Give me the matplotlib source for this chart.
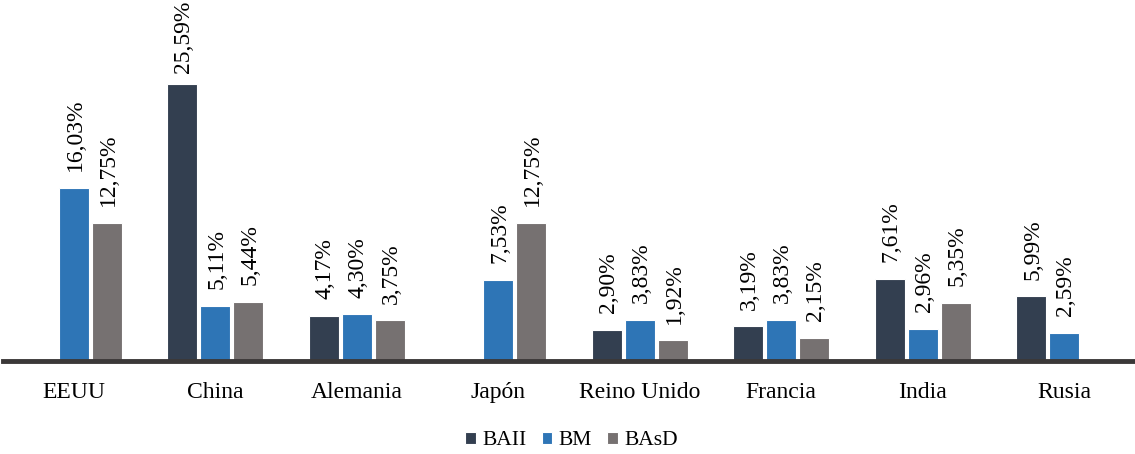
import numpy as np
import matplotlib.pyplot as plt

plt.rcParams["font.family"] = ["Liberation Serif", "DejaVu Serif"]

paises = ["EEUU", "China", "Alemania", "Japón", "Reino Unido", "Francia", "India", "Rusia"]
series = ["BAII", "BM", "BAsD"]
baii = [np.nan, 25.59, 4.17, np.nan, 2.90, 3.19, 7.61, 5.99]
bm = [16.03, 5.11, 4.30, 7.53, 3.83, 3.83, 2.96, 2.59]
basd = [12.75, 5.44, 3.75, 12.75, 1.92, 2.15, 5.35, np.nan]
colores = ["#333F50", "#2E75B6", "#767171"]

fig = plt.figure(figsize=(11.35, 4.54), dpi=100)
ax = fig.add_axes([0.0026, 0.205, 0.9974, 0.795])

x = np.arange(len(paises))
ancho = 0.212
paso = 0.233
handles = []
etiquetas = []
for i, (nombre, vals, col) in enumerate(zip(series, [baii, bm, basd], colores)):
    pos = x + (i - 1) * paso
    b = ax.bar(pos, vals, width=ancho, color=col, edgecolor="white",
               linewidth=0.8, label=nombre, zorder=2)
    handles.append(b)
    for xp, v in zip(pos, vals):
        if np.isnan(v):
            continue
        txt = f"{v:.2f}%".replace(".", ",")
        t = ax.annotate(txt, (xp, v), xytext=(1, 12), textcoords="offset points",
                        rotation=90, ha="center", va="bottom", fontsize=17,
                        annotation_clip=False)
        etiquetas.append(t)

ax.set_xlim(-0.5, len(paises) - 0.5)
ax.set_ylim(0, 33.4)
ax.set_yticks([])
for s in ["top", "right", "left"]:
    ax.spines[s].set_visible(False)
ax.spines["bottom"].set_color("#3B3838")
ax.spines["bottom"].set_linewidth(3.5)
ax.set_xticks(x)
ax.set_xticklabels(paises, fontsize=17)
ax.tick_params(axis="x", length=0, pad=15)

fig.legend(handles=handles, labels=series, loc="center", bbox_to_anchor=(0.5035, 0.029),
           ncol=3, frameon=False, fontsize=15.5, handlelength=0.5, handleheight=0.5,
           handletextpad=0.3, columnspacing=0.7)

# pull down any label that would run past the top edge
fig.canvas.draw()
r = fig.canvas.get_renderer()
alto = fig.bbox.height
for t in etiquetas:
    bb = t.get_window_extent(r)
    if bb.y1 > alto - 1:
        dx, dy = t.xyann
        t.xyann = (dx, dy - (bb.y1 - alto + 1) * 72 / fig.dpi)

fig.savefig("out.png", dpi=100)
